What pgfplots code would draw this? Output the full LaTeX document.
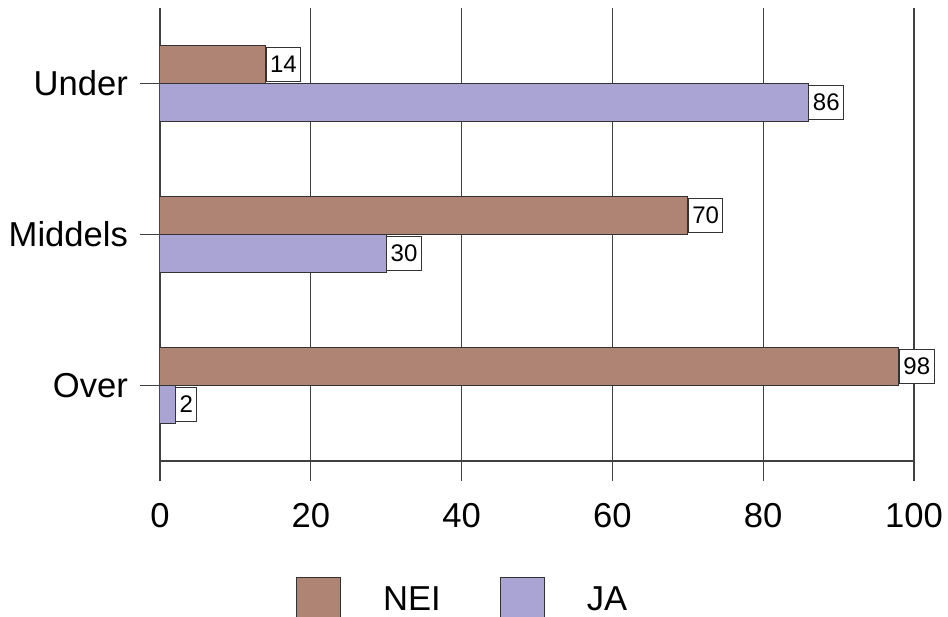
\documentclass[border=0pt]{standalone}
\usepackage{fontspec}
\setmainfont{Liberation Sans}
\usepackage{pgfplots}
\pgfplotsset{compat=1.18}
\definecolor{nei}{RGB}{176,132,116}
\definecolor{ja}{RGB}{170,164,212}
\begin{document}
\begin{tikzpicture}
\useasboundingbox (-80pt,-77.5pt) rectangle (394pt,230.5pt);
\clip (-80pt,-77.5pt) rectangle (394pt,230.5pt);
\begin{axis}[
  scale only axis, width=377pt, height=226.5pt,
  xbar, bar width=0.25,
  xmin=0, xmax=100, ymin=-0.5, ymax=2.5,
  enlargelimits=false,
  axis x line*=bottom, axis y line*=left,
  axis line style={black!75, line width=0.6pt},
  xtick={0,20,40,60,80,100}, ytick={0,1,2},
  yticklabels={Over,Middels,Under},
  xmajorgrids, grid style={black!75, line width=0.6pt},
  tick align=outside, major tick length=10pt,
  tick style={black!75, line width=0.6pt},
  tick label style={font=\fontsize{17.3}{20}\selectfont},
  xticklabel style={yshift=-7.5pt},
  yticklabel style={xshift=-2.5pt},
  /pgf/number format/assume math mode=true,
  nodes near coords,
  every node near coord/.append style={font=\fontsize{12}{14}\selectfont,
    draw=black!80, fill=white, inner xsep=2pt, inner ysep=0pt,
    minimum height=17pt, anchor=west, line width=0.5pt, text=black},
  legend columns=2,
  legend style={draw=none, fill=none, at={(axis description cs:0.18,0)},
    anchor=north west, yshift=-58pt, inner sep=0pt,
    font=\fontsize{17.3}{20}\selectfont,
    /tikz/every even column/.append style={column sep=27.5pt}},
  legend image code/.code={\draw[#1] (0pt,-11pt) rectangle (22pt,11pt);
    \path (41pt,0pt);},
]
\addplot[fill=nei, draw=black!80, line width=0.5pt, bar shift=0.125]
  coordinates {(98,0) (70,1) (14,2)};
\addplot[fill=ja, draw=black!80, line width=0.5pt, bar shift=-0.125]
  coordinates {(2,0) (30,1) (86,2)};
\legend{NEI, JA}
\end{axis}
\end{tikzpicture}
\end{document}
